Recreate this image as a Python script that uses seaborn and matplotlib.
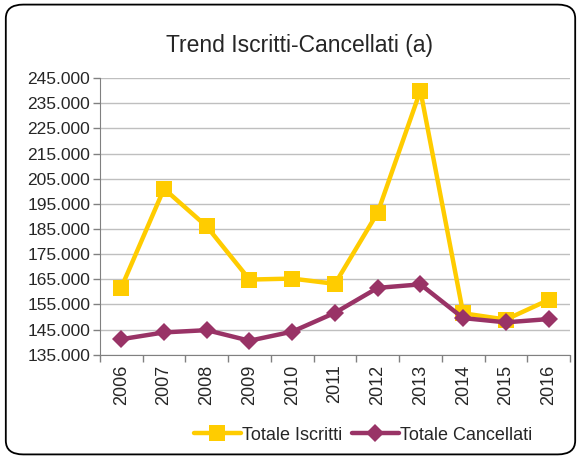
import pandas as pd
import matplotlib.pyplot as plt
import seaborn as sns
from matplotlib.patches import FancyBboxPatch
from matplotlib.ticker import FuncFormatter

years = ['2006', '2007', '2008', '2009', '2010', '2011', '2012', '2013', '2014', '2015', '2016']
iscritti = [161700, 201000, 186000, 164900, 165300, 163200, 191500, 240000, 151500, 149000, 156800]
cancellati = [141200, 143900, 144800, 140600, 144200, 151700, 161600, 163000, 149600, 147900, 149200]

sns.set_style('white')
plt.rcParams['font.family'] = ['Liberation Sans', 'DejaVu Sans']

df = pd.DataFrame({'pos': range(len(years)), 'Totale Iscritti': iscritti, 'Totale Cancellati': cancellati})

fig = plt.figure(figsize=(5.81, 4.59), dpi=100)
ax = fig.add_axes([0.172, 0.227, 0.809, 0.603])

# rounded chart border
fig.patches.append(FancyBboxPatch((0.01, 0.01), 0.98, 0.98, boxstyle='round,pad=0,rounding_size=0.03',
                                  transform=fig.transFigure, fill=False, edgecolor='black', lw=1.3))

sns.lineplot(data=df, x='pos', y='Totale Iscritti', ax=ax, color='#FFCC00', lw=3.2,
             marker='s', markersize=11, markeredgewidth=0, label='Totale Iscritti')
sns.lineplot(data=df, x='pos', y='Totale Cancellati', ax=ax, color='#993366', lw=3.2,
             marker='D', markersize=9, markeredgewidth=0, label='Totale Cancellati')

ax.set_ylim(135000, 245000)
ax.set_yticks(range(135000, 245001, 10000))
ax.yaxis.set_major_formatter(FuncFormatter(lambda v, p: f'{int(v):,}'.replace(',', '.')))
ax.set_xlim(-0.5, len(years) - 0.5)
ax.set_xticks([i - 0.5 for i in range(len(years) + 1)])
ax.set_xticklabels([])
ax.set_xticks(range(len(years)), minor=True)
ax.set_xticklabels(years, minor=True, rotation=90)
ax.tick_params(axis='x', which='major', length=5, width=1, color='#808080', direction='out', bottom=True)
ax.tick_params(axis='x', which='minor', length=0, labelsize=13, pad=7)
ax.tick_params(axis='y', length=5, width=1, color='#808080', direction='out', left=True, labelsize=12.5, pad=2)
ax.grid(axis='y', color='#BFBFBF', lw=1)
ax.set_axisbelow(True)
for s in ['top', 'right']:
    ax.spines[s].set_visible(False)
for s in ['left', 'bottom']:
    ax.spines[s].set_color('#808080')
ax.set_xlabel('')
ax.set_ylabel('')

fig.text(0.515, 0.9, 'Trend Iscritti-Cancellati (a)', ha='center', va='center', fontsize=16.5)

ax.legend(loc='center', bbox_to_anchor=(0.56, -0.29), ncol=2, frameon=False, fontsize=13,
          handlelength=2.6, handletextpad=0.1, columnspacing=0.5)

fig.savefig('out.png', dpi=100)
